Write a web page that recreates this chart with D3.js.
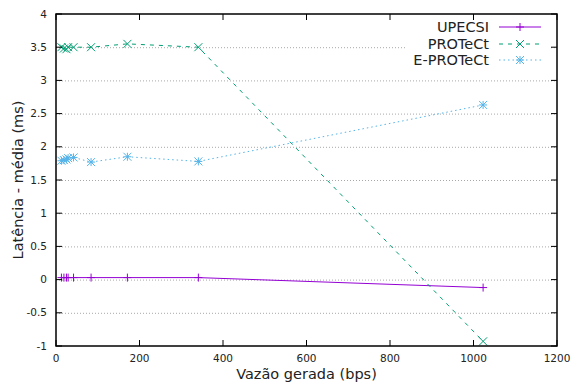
<!DOCTYPE html>
<html>
<head>
<meta charset="utf-8">
<script src="https://cdn.jsdelivr.net/npm/d3@7"></script>
<style>
body{margin:0;background:#fff;}
text{font-family:"DejaVu Sans",sans-serif;fill:#222;}
</style>
</head>
<body>
<script>
let width = 578, height = 383;
let margin = {"top":14,"bottom":37,"left":56,"right":21};

// bps values (x) and latency per protocol
let vazao = [13, 19, 25, 29, 42, 84, 171, 341, 1023];
let upecsi = [0.03, 0.03, 0.03, 0.03, 0.03, 0.03, 0.03, 0.03, -0.12];
let protect = [3.5, 3.48, 3.47, 3.5, 3.5, 3.5, 3.55, 3.5, -0.93];
let eprotect = [1.79, 1.8, 1.81, 1.83, 1.84, 1.77, 1.85, 1.78, 2.63];
let seriesNames = ["UPECSI", "PROTeCt", "E-PROTeCt"];
let xTicks = [0, 200, 400, 600, 800, 1000, 1200];
let yTicks = [-1, -0.5, 0, 0.5, 1, 1.5, 2, 2.5, 3, 3.5, 4];

let colors = ["#9400d3", "#009e73", "#56b4e9"];
let dashes = [null, "4,5", "1.5,3"];
let markers = ["plus", "cross", "star"];

let svg = d3.select("body").append("svg").attr("width",width).attr("height",height);
let x = d3.scaleLinear().domain([0,1200]).range([margin.left, width-margin.right]);
let y = d3.scaleLinear().domain([-1,4]).range([height-margin.bottom, margin.top]);

// horizontal grid
svg.append("g").selectAll("line").data(yTicks.slice(1,-1)).join("line")
  .attr("x1",x(0)).attr("x2",x(1200))
  .attr("y1",d=>y(d)+0.5).attr("y2",d=>y(d)+0.5)
  .attr("stroke","#a8a8a8").attr("stroke-width",1).attr("stroke-dasharray","1,2");

function marker(g, type, cx, cy, color){
  let s = 4;
  let p = "";
  if (type==="plus") p = `M${cx-s},${cy}H${cx+s}M${cx},${cy-s}V${cy+s}`;
  else if (type==="cross") p = `M${cx-s},${cy-s}L${cx+s},${cy+s}M${cx-s},${cy+s}L${cx+s},${cy-s}`;
  else p = `M${cx-s},${cy}H${cx+s}M${cx},${cy-s}V${cy+s}M${cx-s},${cy-s}L${cx+s},${cy+s}M${cx-s},${cy+s}L${cx+s},${cy-s}`;
  g.append("path").attr("d",p).attr("stroke",color).attr("stroke-width",1).attr("fill","none");
}

let allData = [upecsi, protect, eprotect];
let line = d3.line().x(d=>x(d[0])).y(d=>y(d[1]));
allData.forEach((vals,i)=>{
  let pts = vazao.map((v,j)=>[v,vals[j]]);
  let g = svg.append("g");
  g.append("path").attr("d",line(pts)).attr("fill","none")
   .attr("stroke",colors[i]).attr("stroke-width",1)
   .attr("stroke-dasharray",dashes[i]);
  pts.forEach(p=>marker(g, markers[i], x(p[0]), y(p[1]), colors[i]));
});

// legend (opaque box)
let legX = 489, legY = [27, 44, 60];
svg.append("rect").attr("x",405).attr("y",18).attr("width",146).attr("height",52).attr("fill","#fff");
seriesNames.forEach((n,i)=>{
  svg.append("text").attr("x",legX).attr("y",legY[i]).attr("dy","0.35em")
    .attr("text-anchor","end").attr("font-size",14.5).text(n);
  svg.append("line").attr("x1",499).attr("x2",541).attr("y1",legY[i]).attr("y2",legY[i])
    .attr("stroke",colors[i]).attr("stroke-width",1).attr("stroke-dasharray",dashes[i]);
  marker(svg, markers[i], 520, legY[i], colors[i]);
});

// border
svg.append("rect").attr("x",x(0)).attr("y",y(4)).attr("width",x(1200)-x(0)).attr("height",y(-1)-y(4))
  .attr("fill","none").attr("stroke","#000").attr("stroke-width",1.5);

// ticks (inward, mirrored)
let tk = svg.append("g").attr("stroke","#000").attr("stroke-width",1);
xTicks.forEach(t=>{
  tk.append("line").attr("x1",x(t)).attr("x2",x(t)).attr("y1",y(-1)).attr("y2",y(-1)-6);
  tk.append("line").attr("x1",x(t)).attr("x2",x(t)).attr("y1",y(4)).attr("y2",y(4)+6);
});
yTicks.forEach(t=>{
  tk.append("line").attr("x1",x(0)).attr("x2",x(0)+6).attr("y1",y(t)).attr("y2",y(t));
  tk.append("line").attr("x1",x(1200)).attr("x2",x(1200)-6).attr("y1",y(t)).attr("y2",y(t));
});

svg.append("g").selectAll("text").data(xTicks).join("text")
  .attr("x",d=>x(d)).attr("y",y(-1)+12.5).attr("dy","0.35em")
  .attr("text-anchor","middle").attr("font-size",10.5).text(d=>d);
svg.append("g").selectAll("text").data(yTicks).join("text")
  .attr("x",x(0)-9).attr("y",d=>y(d)).attr("dy","0.35em")
  .attr("text-anchor","end").attr("font-size",10.5).text(d=>d);

svg.append("text").attr("x",(x(0)+x(1200))/2).attr("y",373.5).attr("dy","0.35em")
  .attr("text-anchor","middle").attr("font-size",14.5).text("Vazão gerada (bps)");
svg.append("text").attr("transform",`translate(18,${(y(4)+y(-1))/2}) rotate(-90)`)
  .attr("dy","0.35em").attr("text-anchor","middle").attr("font-size",14.5).text("Latência - média (ms)");
</script>
</body>
</html>
